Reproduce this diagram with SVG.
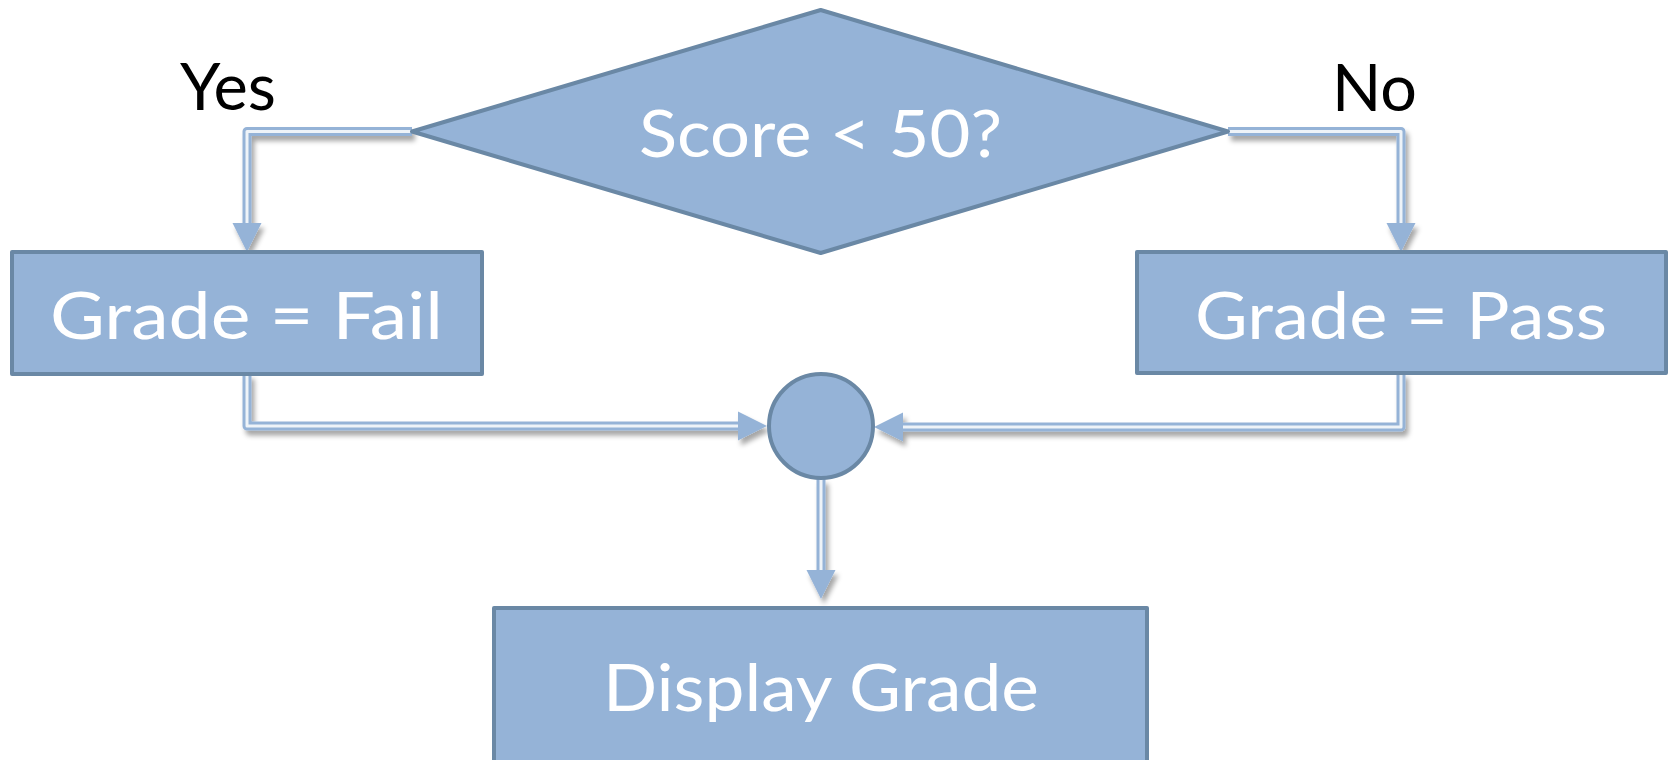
<svg xmlns="http://www.w3.org/2000/svg" width="1671" height="760" viewBox="0 0 1671 760">
<style>
.node{fill:#95B3D7;stroke:#6A88A5;stroke-width:4;stroke-linejoin:round}
.lbl{font-family:Lato,"Open Sans","Liberation Sans",sans-serif;font-size:66px;fill:#ffffff}
.yn{font-family:Lato,"Open Sans","Liberation Sans",sans-serif;font-size:66px;fill:#000000}
.outer{fill:none;stroke:#95B3D7;stroke-width:9;stroke-linejoin:round}
.inner{fill:none;stroke:#EEF3F8;stroke-width:3;stroke-linejoin:round}
</style>
<defs>
<filter id="sh" x="-20%" y="-20%" width="140%" height="140%">
<feDropShadow dx="3" dy="5" stdDeviation="2.5" flood-color="#000" flood-opacity="0.35"/>
</filter>
<marker id="ah" markerUnits="userSpaceOnUse" markerWidth="30" markerHeight="30" refX="0" refY="14.5" orient="auto" overflow="visible">
<path d="M0,0 L29,14.5 L0,29 Z" fill="#95B3D7"/>
</marker>
</defs>
<rect width="1671" height="760" fill="#ffffff"/>

<g id="connectors" filter="url(#sh)">
<g id="c-yes">
<path class="outer" d="M412,131.5 H247 V223" marker-end="url(#ah)"/>
<path class="inner" d="M412,131.5 H247 V223"/>
</g>
<g id="c-no">
<path class="outer" d="M1228,131.5 H1401 V223" marker-end="url(#ah)"/>
<path class="inner" d="M1228,131.5 H1401 V223"/>
</g>
<g id="c-fail">
<path class="outer" d="M247,374 V426 H738" marker-end="url(#ah)"/>
<path class="inner" d="M247,374 V426 H738"/>
</g>
<g id="c-pass">
<path class="outer" d="M1401,373 V427 H903" marker-end="url(#ah)"/>
<path class="inner" d="M1401,373 V427 H903"/>
</g>
<g id="c-join">
<path class="outer" d="M821,479 V570" marker-end="url(#ah)"/>
<path class="inner" d="M821,479 V570"/>
</g>
</g>

<g id="decision">
<polygon class="node" points="820.7,10 1228,131.5 820.7,253 412,131.5"/>
<text class="lbl" x="639" y="157" textLength="363" lengthAdjust="spacingAndGlyphs">Score &lt; 50?</text>
</g>

<g id="fail">
<rect class="node" x="12" y="252" width="470" height="122"/>
<text class="lbl" x="50" y="339" textLength="393" lengthAdjust="spacingAndGlyphs">Grade = Fail</text>
</g>

<g id="pass">
<rect class="node" x="1137" y="252" width="529" height="121"/>
<text class="lbl" x="1195" y="339" textLength="412" lengthAdjust="spacingAndGlyphs">Grade = Pass</text>
</g>

<g id="join">
<circle class="node" cx="821" cy="426" r="52"/>
</g>

<g id="display">
<rect class="node" x="494" y="608" width="653" height="170"/>
<text class="lbl" x="603" y="711" textLength="436" lengthAdjust="spacingAndGlyphs">Display Grade</text>
</g>

<g id="labels">
<text class="yn" x="180" y="110" textLength="96" lengthAdjust="spacingAndGlyphs">Yes</text>
<text class="yn" x="1332" y="111" textLength="85" lengthAdjust="spacingAndGlyphs">No</text>
</g>
</svg>
